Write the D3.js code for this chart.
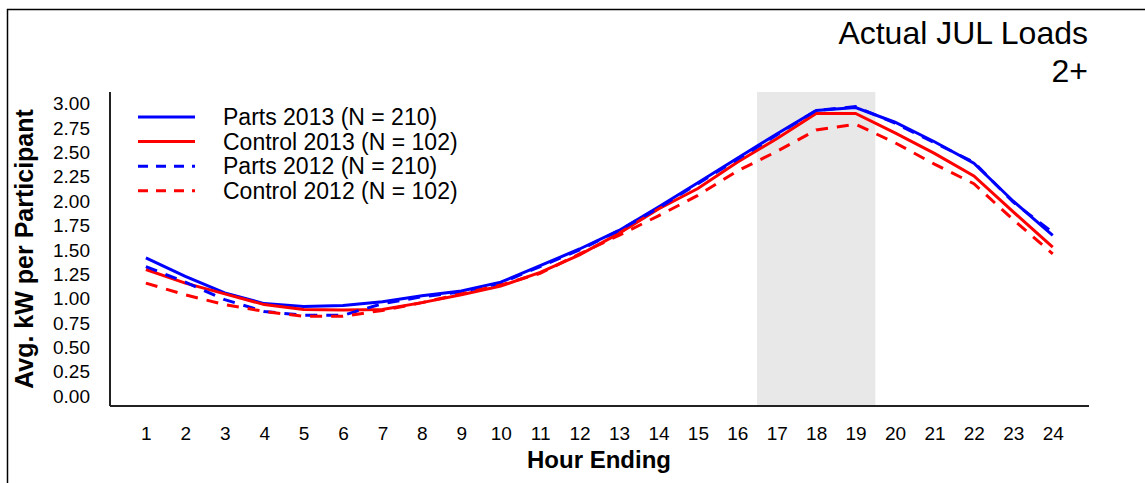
<!DOCTYPE html>
<html>
<head>
<meta charset="utf-8">
<script src="https://cdn.jsdelivr.net/npm/d3@7"></script>
<style>
  body { margin: 0; background: #fff; }
  svg text { font-family: "Liberation Sans", Arial, sans-serif; fill: #000; }
</style>
</head>
<body>
<div id="canvas"></div>
<script>
// ---- data ----
const hours = d3.range(1, 25);
const parts2013 = [1.42, 1.23, 1.06, 0.95, 0.92, 0.93, 0.97, 1.03, 1.08, 1.17, 1.34, 1.51,
  1.70, 1.94, 2.19, 2.44, 2.69, 2.93, 2.96, 2.81, 2.61, 2.39, 2.00, 1.65];
const control2013 = [1.30, 1.16, 1.05, 0.94, 0.89, 0.885, 0.89, 0.96, 1.04, 1.13, 1.27, 1.45,
  1.67, 1.92, 2.13, 2.40, 2.64, 2.90, 2.90, 2.70, 2.49, 2.26, 1.89, 1.53];
const parts2012 = [1.33, 1.17, 0.99, 0.87, 0.83, 0.83, 0.95, 1.02, 1.07, 1.16, 1.33, 1.50,
  1.70, 1.93, 2.18, 2.43, 2.68, 2.93, 2.97, 2.80, 2.60, 2.40, 1.99, 1.68];
const control2012 = [1.16, 1.04, 0.94, 0.87, 0.82, 0.82, 0.88, 0.96, 1.05, 1.14, 1.26, 1.46,
  1.65, 1.85, 2.06, 2.31, 2.51, 2.73, 2.79, 2.60, 2.38, 2.18, 1.81, 1.46];
const seriesNames = ["Parts 2013 (N = 210)", "Control 2013 (N = 102)", "Parts 2012 (N = 210)", "Control 2012 (N = 102)"];
const yTicks = d3.range(0, 3.01, 0.25);
const peakHours = [16.5, 19.5];

const series = [
  { name: seriesNames[0], values: parts2013, color: "#0000ff", dash: null },
  { name: seriesNames[1], values: control2013, color: "#ff0000", dash: null },
  { name: seriesNames[2], values: parts2012, color: "#0000ff", dash: "12,9" },
  { name: seriesNames[3], values: control2012, color: "#ff0000", dash: "12,9" }
];

const dims = { width: 1145, height: 483 };
const plot = { left: 110, right: 1089, top: 92, bottom: 406 };

const svg = d3.select("#canvas")
  .append("svg")
  .attr("width", dims.width)
  .attr("height", dims.height);

// outer frame
svg.append("path")
  .attr("d", `M7.5,${dims.height + 5} L7.5,9.5 L${dims.width + 5},9.5`)
  .attr("fill", "none")
  .attr("stroke", "#000")
  .attr("stroke-width", 1.5);

const xScale = d3.scaleLinear().domain([0.09, 24.92]).range([plot.left, plot.right]);
const yScale = d3.scaleLinear().domain([-0.1, 3.12]).range([plot.bottom, plot.top]);

// peak shading
svg.append("rect")
  .attr("x", xScale(peakHours[0]))
  .attr("width", xScale(peakHours[1]) - xScale(peakHours[0]))
  .attr("y", plot.top)
  .attr("height", plot.bottom - plot.top)
  .attr("fill", "#e8e8e8");

// axes (no tick marks, just labels)
const xAxis = d3.axisBottom(xScale).tickValues(hours).tickSize(0).tickPadding(21)
  .tickFormat(d3.format("d"));
const yAxis = d3.axisLeft(yScale).tickValues(yTicks).tickSize(0).tickPadding(20)
  .tickFormat(d3.format(".2f"));

const xAxisGroup = svg.append("g")
  .attr("transform", `translate(0,${plot.bottom})`)
  .call(xAxis);
const yAxisGroup = svg.append("g")
  .attr("transform", `translate(${plot.left},0)`)
  .call(yAxis);

[xAxisGroup, yAxisGroup].forEach(g => {
  g.select(".domain").remove();
  g.selectAll("text").style("font-size", "19px").attr("fill", "#000");
});

svg.append("line")
  .attr("x1", plot.left).attr("x2", plot.left)
  .attr("y1", plot.top).attr("y2", plot.bottom)
  .attr("stroke", "#222").attr("stroke-width", 2);
svg.append("line")
  .attr("x1", plot.left).attr("x2", plot.right)
  .attr("y1", plot.bottom).attr("y2", plot.bottom)
  .attr("stroke", "#222").attr("stroke-width", 2);

// lines
const lineGen = d3.line()
  .x((d, i) => xScale(hours[i]))
  .y(d => yScale(d));

svg.selectAll("path.series")
  .data(series)
  .enter()
  .append("path")
  .attr("class", "series")
  .attr("d", d => lineGen(d.values))
  .attr("fill", "none")
  .attr("stroke", d => d.color)
  .attr("stroke-width", 3)
  .attr("stroke-dasharray", d => d.dash);

// legend
const legendGroup = svg.append("g").attr("transform", "translate(138,117)");
const rows = legendGroup.selectAll("g")
  .data(series)
  .enter()
  .append("g")
  .attr("transform", (d, i) => `translate(0,${i * 24.6})`);
rows.append("line")
  .attr("x1", 0).attr("x2", 57)
  .attr("stroke", d => d.color)
  .attr("stroke-width", 3)
  .attr("stroke-dasharray", d => d.dash ? "10,8" : null);
rows.append("text")
  .attr("x", 85)
  .attr("y", 8)
  .style("font-size", "23px")
  .text(d => d.name);

// titles
svg.append("text")
  .attr("x", 1088).attr("y", 44)
  .attr("text-anchor", "end")
  .style("font-size", "32px")
  .text("Actual JUL Loads");
svg.append("text")
  .attr("x", 1088).attr("y", 82)
  .attr("text-anchor", "end")
  .style("font-size", "32px")
  .text("2+");

svg.append("text")
  .attr("x", 599).attr("y", 468)
  .attr("text-anchor", "middle")
  .style("font-size", "24px")
  .style("font-weight", "bold")
  .text("Hour Ending");

svg.append("text")
  .attr("transform", `translate(33,${(plot.top + plot.bottom) / 2}) rotate(-90)`)
  .attr("text-anchor", "middle")
  .style("font-size", "25px")
  .style("font-weight", "bold")
  .text("Avg. kW per Participant");
</script>
</body>
</html>
